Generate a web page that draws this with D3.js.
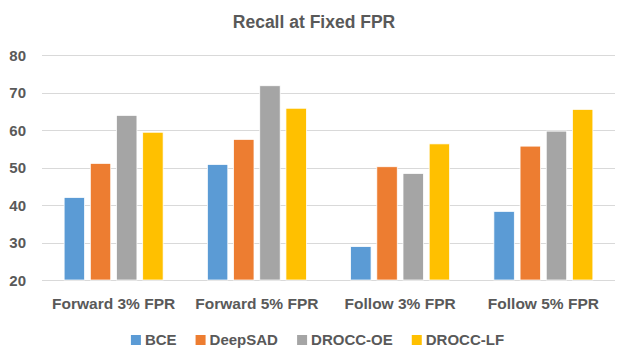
<!DOCTYPE html>
<html>
<head>
<meta charset="utf-8">
<script src="https://cdn.jsdelivr.net/npm/d3@7"></script>
<style>
  body { margin: 0; background: #fff; }
  svg text { font-family: "Liberation Sans", Arial, sans-serif; font-weight: bold; fill: #595959; }
</style>
</head>
<body>
<div id="graphic"></div>
<script>
// Data
var categories = ["Forward 3% FPR", "Forward 5% FPR", "Follow 3% FPR", "Follow 5% FPR"];
var seriesNames = ["BCE", "DeepSAD", "DROCC-OE", "DROCC-LF"];
var seriesColors = ["#5B9BD5", "#ED7D31", "#A5A5A5", "#FFC000"];
var bceValues = [42.0, 50.8, 28.9, 38.3];
var deepSadValues = [51.1, 57.5, 50.2, 55.7];
var droccOeValues = [63.9, 71.8, 48.4, 59.7];
var droccLfValues = [59.4, 65.8, 56.3, 65.5];
var yTicks = [20, 30, 40, 50, 60, 70, 80];

var allValues = [bceValues, deepSadValues, droccOeValues, droccLfValues];

var W = 628, H = 354;
var plotLeft = 42, plotRight = 615, plotTop = 55, plotBottom = 280;

var svg = d3.select('#graphic')
    .append('svg')
    .attr('width', W)
    .attr('height', H);

// Scales
var xScale = d3.scaleBand()
    .domain(categories)
    .range([plotLeft, plotRight])
    .paddingInner(0.309)
    .paddingOuter(0.1545);
var xInner = d3.scaleBand()
    .domain(seriesNames)
    .range([0, xScale.bandwidth()])
    .paddingInner(0.22);
var yScale = d3.scaleLinear()
    .domain([20, 80])
    .range([plotBottom, plotTop]);

// Gridlines
svg.append('g')
    .selectAll('line')
    .data(yTicks)
    .enter()
    .append('line')
    .attr('x1', plotLeft)
    .attr('x2', plotRight)
    .attr('y1', function (d) { return Math.round(yScale(d)) + 0.5; })
    .attr('y2', function (d) { return Math.round(yScale(d)) + 0.5; })
    .attr('stroke', '#D9D9D9')
    .attr('stroke-width', 1);

// Y axis labels
var yAxis = d3.axisLeft(yScale).tickValues(yTicks).tickSize(0).tickPadding(0);
var yg = svg.append('g')
    .attr('transform', 'translate(26,0)')
    .call(yAxis);
yg.select('.domain').remove();
yg.selectAll('text')
    .attr('font-size', '15px')
    .attr('font-family', null)
    .attr('fill', '#595959')
    .attr('dy', '0.36em');

// Bars
var groups = svg.append('g')
    .selectAll('g')
    .data(categories)
    .enter()
    .append('g')
    .attr('transform', function (d) { return 'translate(' + xScale(d) + ',0)'; });

groups.selectAll('rect')
    .data(function (d, i) {
        return seriesNames.map(function (s, j) {
            return {series: s, value: allValues[j][i], color: seriesColors[j]};
        });
    })
    .enter()
    .append('rect')
    .attr('x', function (d) { return xInner(d.series); })
    .attr('y', function (d) { return yScale(d.value); })
    .attr('width', xInner.bandwidth())
    .attr('height', function (d) { return yScale(20) - yScale(d.value); })
    .attr('fill', function (d) { return d.color; })
    .attr('stroke', '#ffffff')
    .attr('stroke-width', 0.75);

// X axis labels
var xAxis = d3.axisBottom(xScale).tickSize(0).tickPadding(0);
var xg = svg.append('g')
    .attr('transform', 'translate(0,' + 303 + ')')
    .call(xAxis);
xg.select('.domain').remove();
xg.selectAll('text')
    .attr('font-size', '15.5px')
    .attr('font-family', null)
    .attr('fill', '#595959')
    .attr('y', 0)
    .attr('dy', '0.36em');

// Title
svg.append('text')
    .attr('x', 314)
    .attr('y', 22)
    .attr('dy', '0.36em')
    .attr('text-anchor', 'middle')
    .attr('font-size', '17.5px')
    .text('Recall at Fixed FPR');

// Legend
var legend = svg.append('g');
var items = legend.selectAll('g')
    .data(seriesNames)
    .enter()
    .append('g');
items.append('rect')
    .attr('width', 10)
    .attr('height', 10)
    .attr('y', -5)
    .attr('fill', function (d, i) { return seriesColors[i]; });
items.append('text')
    .attr('x', 14)
    .attr('dy', '0.36em')
    .attr('font-size', '15px')
    .text(function (d) { return d; });

var xPos = 0;
items.each(function () {
    var w = this.getBBox().width;
    d3.select(this).attr('transform', 'translate(' + xPos + ',0)');
    xPos += w + 19;
});
var legendWidth = xPos - 19;
legend.attr('transform', 'translate(' + (317.5 - legendWidth / 2) + ',340)');
</script>
</body>
</html>
